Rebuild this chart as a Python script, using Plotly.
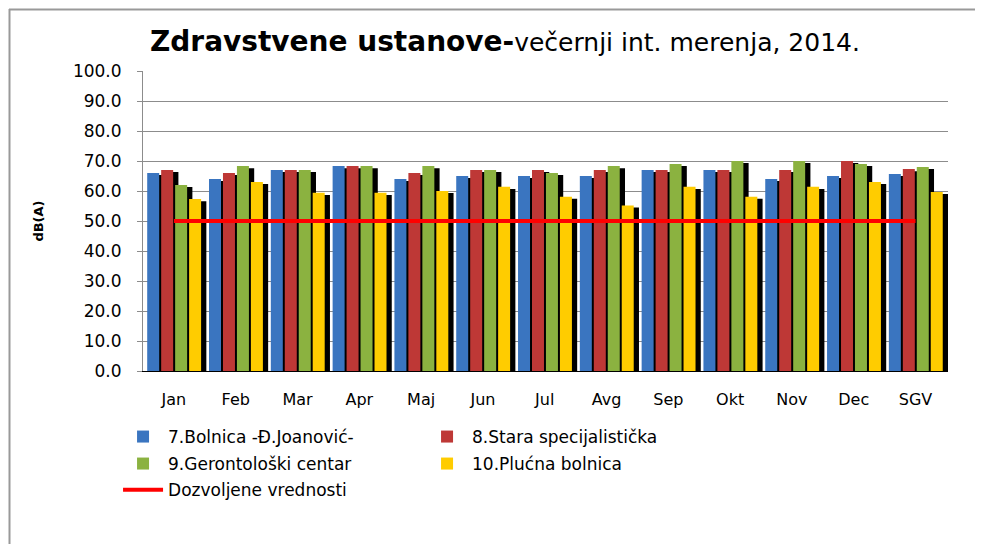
import plotly.graph_objects as go

# Dati: livelli serali per ustanova, dB(A)
meseci = ["Jan", "Feb", "Mar", "Apr", "Maj", "Jun", "Jul", "Avg", "Sep", "Okt", "Nov", "Dec", "SGV"]

bolnica_joanovic = [66.0, 64.0, 67.0, 68.3, 64.0, 65.0, 65.0, 65.0, 67.0, 67.0, 64.0, 65.0, 65.7]
stara_spec       = [67.0, 66.0, 67.0, 68.3, 66.0, 67.0, 67.0, 67.0, 67.0, 67.0, 67.0, 70.0, 67.3]
gerontoloski     = [62.0, 68.3, 67.0, 68.3, 68.3, 67.0, 66.0, 68.3, 69.0, 70.0, 70.0, 69.0, 68.0]
plucna_bolnica   = [57.3, 63.0, 59.4, 59.4, 60.0, 61.4, 58.1, 55.2, 61.4, 58.1, 61.4, 63.0, 59.7]
dozvoljeno       = [50.0] * len(meseci)

serije = [
    ("7.Bolnica -Đ.Joanović-", bolnica_joanovic, "#3A75C0", "legend"),
    ("8.Stara specijalistička", stara_spec, "#BE3836", "legend"),
    ("9.Gerontološki centar", gerontoloski, "#8BB240", "legend2"),
    ("10.Plućna bolnica", plucna_bolnica, "#FFCC00", "legend2"),
]

FONT = "DejaVu Sans"
# geometria stubića (u jedinicama kategorije)
sirina = 0.194
korak = 0.226
start = -0.432
senka_pomak = 0.085

fig = go.Figure()

for i, (ime, vrednosti, boja, leg) in enumerate(serije):
    off = start + i * korak
    # senka iza stubića
    fig.add_trace(go.Bar(
        x=meseci, y=vrednosti, base=-0.7, offset=off + senka_pomak, width=sirina,
        marker=dict(color="black", line=dict(width=0)), showlegend=False, hoverinfo="skip"))
    fig.add_trace(go.Bar(
        name=ime, x=meseci, y=vrednosti, offset=off, width=sirina,
        marker=dict(color=boja, line=dict(width=0)), legend=leg))

fig.add_trace(go.Scatter(
    name="Dozvoljene vrednosti", x=meseci, y=dozvoljeno, mode="lines",
    line=dict(color="#FF0000", width=4), legend="legend3"))

leg_common = dict(orientation="h", xanchor="left", yanchor="middle", entrywidth=249,
                  font=dict(family=FONT, size=17, color="black"), bgcolor="rgba(0,0,0,0)",
                  itemwidth=40, tracegroupgap=0)

# stranica ima marginu od 8px, zato je figura 975x536
W, H = 975, 536
fig.update_layout(
    width=W, height=H,
    barmode="overlay",
    plot_bgcolor="white", paper_bgcolor="white",
    margin=dict(l=135, r=35, t=63, b=173, autoexpand=False),
    title=dict(
        text="<b><span style='font-size:28px'>Zdravstvene ustanove-</span></b>večernji int. merenja, 2014.",
        font=dict(family=FONT, size=25, color="black"),
        x=142 / W, xanchor="left", xref="container",
        y=1 - 34 / H, yanchor="middle", yref="container"),
    legend=dict(x=-0.031, y=-0.22, **leg_common),
    legend2=dict(x=-0.031, y=-0.31, **leg_common),
    legend3=dict(x=-0.031, y=-0.397, **leg_common),
    shapes=[
        dict(type="line", xref="paper", yref="paper", x0=-134 / 805, x1=840 / 805,
             y0=1 + 61.5 / 300, y1=1 + 61.5 / 300, line=dict(color="#999999", width=2)),
        dict(type="line", xref="paper", yref="paper", x0=-133.5 / 805, x1=-133.5 / 805,
             y0=1 + 62 / 300, y1=-173 / 300, line=dict(color="#999999", width=2)),
    ],
)

fig.update_yaxes(
    range=[0, 100], dtick=10, tickformat=".1f",
    showgrid=True, gridcolor="#8C8C8C", gridwidth=1,
    showline=True, linecolor="#8C8C8C", linewidth=1, mirror=False,
    ticks="outside", ticklen=5, tickcolor="#8C8C8C", ticklabelstandoff=12,
    tickfont=dict(family=FONT, size=17, color="black"),
    title=dict(text="<b>dB(A)</b>", font=dict(family=FONT, size=13, color="black"), standoff=26),
)
fig.update_xaxes(
    showline=True, linecolor="black", linewidth=1,
    ticks="", ticklabelstandoff=14,
    tickfont=dict(family=FONT, size=16, color="black"),
)

fig.write_html("out.html")
